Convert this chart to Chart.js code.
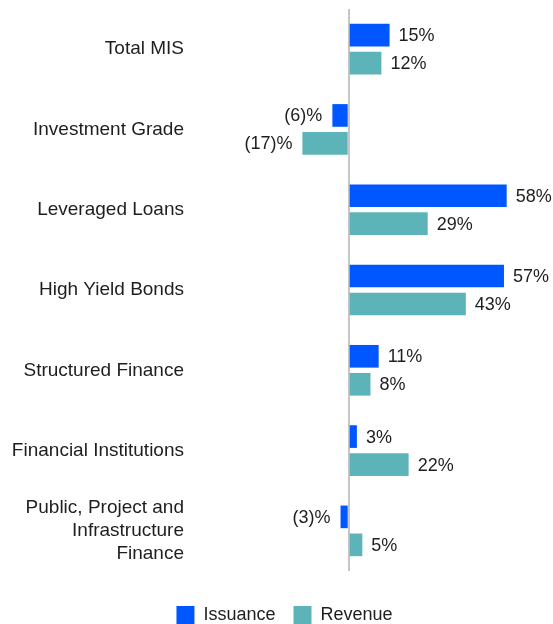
<!DOCTYPE html>
<html>
<head>
<meta charset="utf-8">
<script src="https://cdn.jsdelivr.net/npm/chart.js@4/dist/chart.umd.min.js"></script>
<style>
  html, body { margin: 0; padding: 0; background: #fff; overflow: hidden; }
  #wrap { width: 553px; height: 634px; }
</style>
</head>
<body>
<div id="wrap"><canvas id="chart"></canvas></div>
<script>
const categories = [
  "Total MIS",
  "Investment Grade",
  "Leveraged Loans",
  "High Yield Bonds",
  "Structured Finance",
  "Financial Institutions",
  ["Public, Project and", "Infrastructure", "Finance"]
];
const issuance = [15, -6, 58, 57, 11, 3, -3];
const revenue = [12, -17, 29, 43, 8, 22, 5];

const FONT = "'Liberation Sans', Arial, sans-serif";

// value labels beside each bar, negatives shown as (x)%
const valueLabels = {
  id: "valueLabels",
  afterDatasetsDraw(chart) {
    const ctx = chart.ctx;
    ctx.save();
    ctx.font = "18px " + FONT;
    ctx.fillStyle = "#1e1e1e";
    ctx.textBaseline = "middle";
    chart.data.datasets.forEach((ds, i) => {
      chart.getDatasetMeta(i).data.forEach((bar, j) => {
        const v = ds.data[j];
        if (v < 0) {
          ctx.textAlign = "right";
          ctx.fillText("(" + Math.abs(v) + ")%", bar.x - 10, bar.y + 1);
        } else {
          ctx.textAlign = "left";
          ctx.fillText(v + "%", bar.x + 9, bar.y + 1);
        }
      });
    });
    ctx.restore();
  }
};

// legend sits a little right of the page centre in the original
const legendShift = {
  id: "legendShift",
  afterLayout(chart) {
    chart.legend.left += 8;
    chart.legend.right += 8;
  }
};

new Chart(document.getElementById("chart"), {
  type: "bar",
  data: {
    labels: categories,
    datasets: [
      { label: "Issuance", data: issuance, backgroundColor: "#0057ff" },
      { label: "Revenue", data: revenue, backgroundColor: "#5cb4b8" }
    ]
  },
  options: {
    indexAxis: "y",
    responsive: true,
    maintainAspectRatio: false,
    animation: false,
    categoryPercentage: 0.697,
    barPercentage: 0.81,
    layout: { padding: { top: 9, left: 0, right: 0, bottom: 0 } },
    scales: {
      x: {
        min: -59,
        max: 75,
        afterBuildTicks: s => { s.ticks = [{ value: 0 }]; },
        afterFit: s => { s.height = 17; s.paddingLeft = 0; s.paddingRight = 0; },
        ticks: { display: false },
        border: { display: false },
        grid: { color: "#c6c6c6", lineWidth: 2, drawTicks: false }
      },
      y: {
        afterFit: s => { s.width = 188; s.paddingTop = 0; s.paddingBottom = 0; },
        border: { display: false },
        grid: { display: false, drawTicks: false },
        ticks: {
          padding: 4,
          color: "#1e1e1e",
          font: { family: FONT, size: 19, lineHeight: 1.2 }
        }
      }
    },
    plugins: {
      legend: {
        position: "bottom",
        labels: {
          boxWidth: 18,
          boxHeight: 18,
          padding: 18,
          color: "#1e1e1e",
          font: { family: FONT, size: 18 }
        }
      },
      tooltip: { enabled: false }
    }
  },
  plugins: [valueLabels, legendShift]
});
</script>
</body>
</html>
